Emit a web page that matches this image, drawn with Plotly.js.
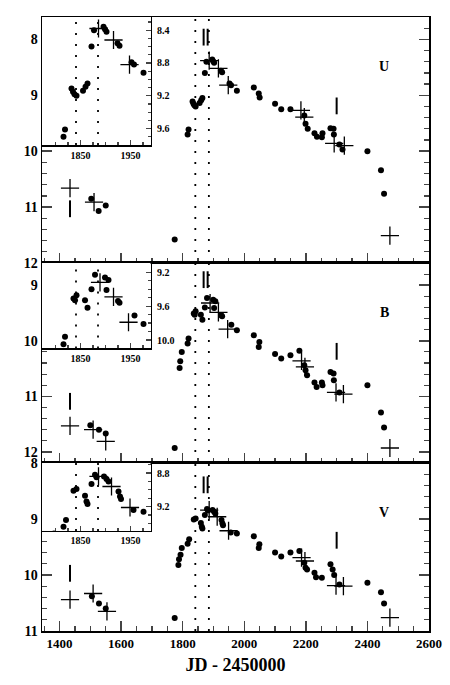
<!DOCTYPE html>
<html>
<head>
<meta charset="utf-8">
<script src="https://cdn.plot.ly/plotly-3.0.1.min.js"></script>
<style>
  body { margin: 0; background: #fff; }
  #chart { width: 450px; height: 685px; }
</style>
</head>
<body>
<div id="chart"></div>
<script>
// U band
const uDotJD  = [1503, 1527, 1550, 1774, 1816, 1819, 1832, 1835, 1838, 1842, 1855, 1860, 1864, 1872, 1877, 1896, 1899, 1902, 1924, 1928, 1952, 1957, 1976,
                 2031, 2047, 2050, 2100, 2120, 2150, 2195, 2199, 2206, 2228, 2236, 2252, 2254, 2280, 2290, 2291, 2309, 2319, 2400, 2444, 2454];
const uDotMag = [10.85, 11.07, 10.97, 11.58, 9.70, 9.61, 9.11, 9.15, 9.18, 9.20, 9.14, 9.09, 9.05, 8.60, 8.40, 8.36, 8.39, 8.42, 8.56, 8.59, 8.79, 8.82, 8.92,
                 8.86, 8.97, 9.04, 9.15, 9.25, 9.25, 9.36, 9.51, 9.60, 9.68, 9.74, 9.75, 9.68, 9.59, 9.60, 9.70, 9.88, 9.97, 10.00, 10.34, 10.76];
const uCrossJD  = [1434, 1512, 1886, 1916, 1948, 2184, 2195, 2292, 2325, 2473];
const uCrossMag = [10.66, 10.91, 8.38, 8.52, 8.82, 9.27, 9.39, 9.86, 9.90, 11.51];
const uArrowJD  = [1434, 1868, 1881, 2300];
const uArrowMag = [11.03, 7.96, 7.96, 9.19];

// B band
const bDotJD  = [1500, 1528, 1550, 1774, 1790, 1792, 1797, 1816, 1819, 1836, 1839, 1842, 1859, 1864, 1872, 1879, 1899, 1902, 1906, 1925, 1928, 1958, 1976,
                 2031, 2047, 2049, 2100, 2120, 2150, 2179, 2195, 2199, 2204, 2228, 2235, 2252, 2254, 2280, 2290, 2291, 2309, 2400, 2444, 2454];
const bDotMag = [11.52, 11.60, 11.67, 11.93, 10.49, 10.37, 10.20, 10.05, 9.96, 9.51, 9.53, 9.47, 9.53, 9.62, 9.40, 9.23, 9.26, 9.41, 9.29, 9.54, 9.56, 9.71, 9.81,
                 9.90, 10.11, 10.02, 10.24, 10.32, 10.26, 10.18, 10.44, 10.53, 10.62, 10.75, 10.83, 10.75, 10.80, 10.56, 10.59, 10.71, 10.93, 10.80, 11.29, 11.56];
const bCrossJD  = [1434, 1509, 1550, 1889, 1916, 1946, 2186, 2197, 2298, 2322, 2473];
const bCrossMag = [11.53, 11.60, 11.81, 9.32, 9.49, 9.79, 10.36, 10.47, 10.93, 10.96, 11.93];
const bArrowJD  = [1434, 1868, 1881, 2300];
const bArrowMag = [11.09, 8.90, 8.90, 10.19];

// V band
const vDotJD  = [1505, 1528, 1550, 1774, 1786, 1788, 1793, 1797, 1816, 1821, 1836, 1842, 1859, 1862, 1864, 1872, 1879, 1882, 1897, 1902, 1906, 1926, 1929, 1931, 1956, 1976,
                 2031, 2047, 2049, 2100, 2120, 2150, 2179, 2195, 2199, 2204, 2228, 2233, 2252, 2280, 2287, 2292, 2309, 2400, 2444, 2454];
const vDotMag = [10.38, 10.51, 10.60, 10.77, 9.82, 9.72, 9.64, 9.52, 9.44, 9.36, 9.01, 8.99, 9.07, 9.14, 9.17, 8.93, 8.82, 8.85, 8.84, 8.87, 8.90, 9.02, 9.08, 9.11, 9.24, 9.26,
                 9.31, 9.52, 9.45, 9.60, 9.67, 9.60, 9.57, 9.78, 9.87, 9.90, 9.96, 10.04, 10.05, 9.81, 9.90, 10.00, 10.17, 10.14, 10.31, 10.51];
const vCrossJD  = [1434, 1509, 1554, 1886, 1912, 1949, 2186, 2197, 2298, 2322, 2473];
const vCrossMag = [10.44, 10.33, 10.65, 8.84, 8.96, 9.21, 9.69, 9.75, 10.19, 10.20, 10.76];
const vArrowJD  = [1434, 1868, 1881, 2300];
const vArrowMag = [9.97, 8.39, 8.39, 9.38];

// dotted vertical markers (JD - 2450000)
const markJD = [1841, 1885];

const SERIF = 'Liberation Serif, Times New Roman, serif';

function dots(jd, mag, xa, ya) {
  return { x: jd, y: mag, xaxis: xa, yaxis: ya, type: 'scatter', mode: 'markers',
    marker: { symbol: 'circle', size: 6, color: '#000' }, hoverinfo: 'skip' };
}
function crosses(jd, mag, xa, ya) {
  return { x: jd, y: mag, xaxis: xa, yaxis: ya, type: 'scatter', mode: 'markers',
    marker: { symbol: 'cross-thin-open', size: 13, color: '#000', line: { width: 1.3, color: '#000' } }, hoverinfo: 'skip' };
}
// limit marks: short vertical bars
function arrows(jd, mag, xa, ya) {
  return { x: jd, y: mag, xaxis: xa, yaxis: ya, type: 'scatter', mode: 'markers',
    marker: { symbol: 'line-ns-open', size: 12, color: '#000', line: { width: 2, color: '#000' } }, hoverinfo: 'skip' };
}

const bands = [
  { dj: uDotJD, dm: uDotMag, cj: uCrossJD, cm: uCrossMag, aj: uArrowJD, am: uArrowMag, main: ['x', 'y'], inset: ['x4', 'y4'] },
  { dj: bDotJD, dm: bDotMag, cj: bCrossJD, cm: bCrossMag, aj: bArrowJD, am: bArrowMag, main: ['x2', 'y2'], inset: ['x5', 'y5'] },
  { dj: vDotJD, dm: vDotMag, cj: vCrossJD, cm: vCrossMag, aj: vArrowJD, am: vArrowMag, main: ['x3', 'y3'], inset: ['x6', 'y6'] }
];

const traces = [];
const shapes = [];
bands.forEach((b) => {
  [b.main, b.inset].forEach(([xa, ya]) => {
    traces.push(dots(b.dj, b.dm, xa, ya));
    traces.push(crosses(b.cj, b.cm, xa, ya));
    markJD.forEach((jd) => {
      shapes.push({ type: 'line', xref: xa, yref: ya + ' domain', x0: jd, x1: jd, y0: 0, y1: 1,
        line: { color: '#000', width: 1.8, dash: '2px,9px' } });
    });
  });
  traces.push(arrows(b.aj, b.am, b.main[0], b.main[1]));
});

const mainX = (anchor, labels) => ({
  range: [1343, 2600], anchor: anchor, domain: [0, 1],
  ticks: 'inside', ticklen: 10, tickwidth: 1.5, tick0: 1400, dtick: 200,
  minor: { ticks: 'inside', ticklen: 5, dtick: 50, tickwidth: 1.2 },
  showline: true, linewidth: 1.5, linecolor: '#000', mirror: true,
  showgrid: false, zeroline: false, showticklabels: labels,
  tickfont: { family: SERIF, size: 13, color: '#000', weight: 'bold' }
});
const mainY = (anchor, range, domain) => ({
  range: range, anchor: anchor, domain: domain,
  ticks: 'inside', ticklen: 10, tickwidth: 1.5, dtick: 1,
  minor: { ticks: 'inside', ticklen: 5, dtick: 0.2, tickwidth: 1.2 },
  showline: true, linewidth: 1.5, linecolor: '#000', mirror: 'ticks',
  showgrid: false, zeroline: false,
  tickfont: { family: SERIF, size: 14, color: '#000', weight: 'bold' }
});
const insetX = (anchor) => ({
  range: [1773, 1990], anchor: anchor, domain: [0, 0.2804],
  ticks: 'inside', ticklen: 5, tickwidth: 1.2, tick0: 1850, dtick: 100,
  minor: { ticks: 'inside', ticklen: 3, dtick: 25 },
  showline: true, linewidth: 1.5, linecolor: '#000', mirror: true,
  showgrid: false, zeroline: false,
  tickfont: { family: SERIF, size: 10, color: '#000', weight: 'bold' }
});
const insetY = (anchor, range, domain, t0) => ({
  range: range, anchor: anchor, domain: domain, side: 'right',
  ticks: 'inside', ticklen: 5, tickwidth: 1.2, tick0: t0, dtick: 0.4, tickformat: '.1f',
  minor: { ticks: 'inside', ticklen: 3, dtick: 0.1 },
  showline: true, linewidth: 1.5, linecolor: '#000', mirror: true,
  showgrid: false, zeroline: false, ticklabelstandoff: 3,
  tickfont: { family: SERIF, size: 10, color: '#000', weight: 'bold' }
});

const xaxis3 = mainX('y3', true);
xaxis3.title = { text: 'JD - 2450000', font: { family: SERIF, size: 18, color: '#000', weight: 'bold' }, standoff: 8 };

const layout = {
  width: 450, height: 685,
  margin: { l: 42, r: 21, t: 17, b: 54 },
  paper_bgcolor: '#fff', plot_bgcolor: '#fff',
  showlegend: false,
  xaxis: mainX('y', false),
  xaxis2: mainX('y2', false),
  xaxis3: xaxis3,
  yaxis: mainY('x', [12, 7.6], [0.59935, 1]),
  yaxis2: mainY('x2', [12.2, 8.6], [0.27362, 0.59935]),
  yaxis3: mainY('x3', [11, 8], [0, 0.27362]),
  xaxis4: insetX('y4'),
  xaxis5: insetX('y5'),
  xaxis6: insetX('y6'),
  yaxis4: insetY('x4', [9.8, 8.24], [0.7915, 1], 8.4),
  yaxis5: insetY('x5', [10.1, 9.09], [0.4601, 0.59935], 9.2),
  yaxis6: insetY('x6', [9.49, 8.68], [0.1629, 0.27362], 8.8),
  shapes: shapes,
  annotations: [
    { text: 'U', xref: 'x domain', yref: 'y domain', x: 0.901, y: 0.839, showarrow: false,
      font: { family: SERIF, size: 14, color: '#000', weight: 'bold' } },
    { text: 'B', xref: 'x2 domain', yref: 'y2 domain', x: 0.901, y: 0.80, showarrow: false,
      font: { family: SERIF, size: 14, color: '#000', weight: 'bold' } },
    { text: 'V', xref: 'x3 domain', yref: 'y3 domain', x: 0.901, y: 0.76, showarrow: false,
      font: { family: SERIF, size: 14, color: '#000', weight: 'bold' } }
  ]
};

Plotly.newPlot('chart', traces, layout, { displayModeBar: false, staticPlot: true });
</script>
</body>
</html>
